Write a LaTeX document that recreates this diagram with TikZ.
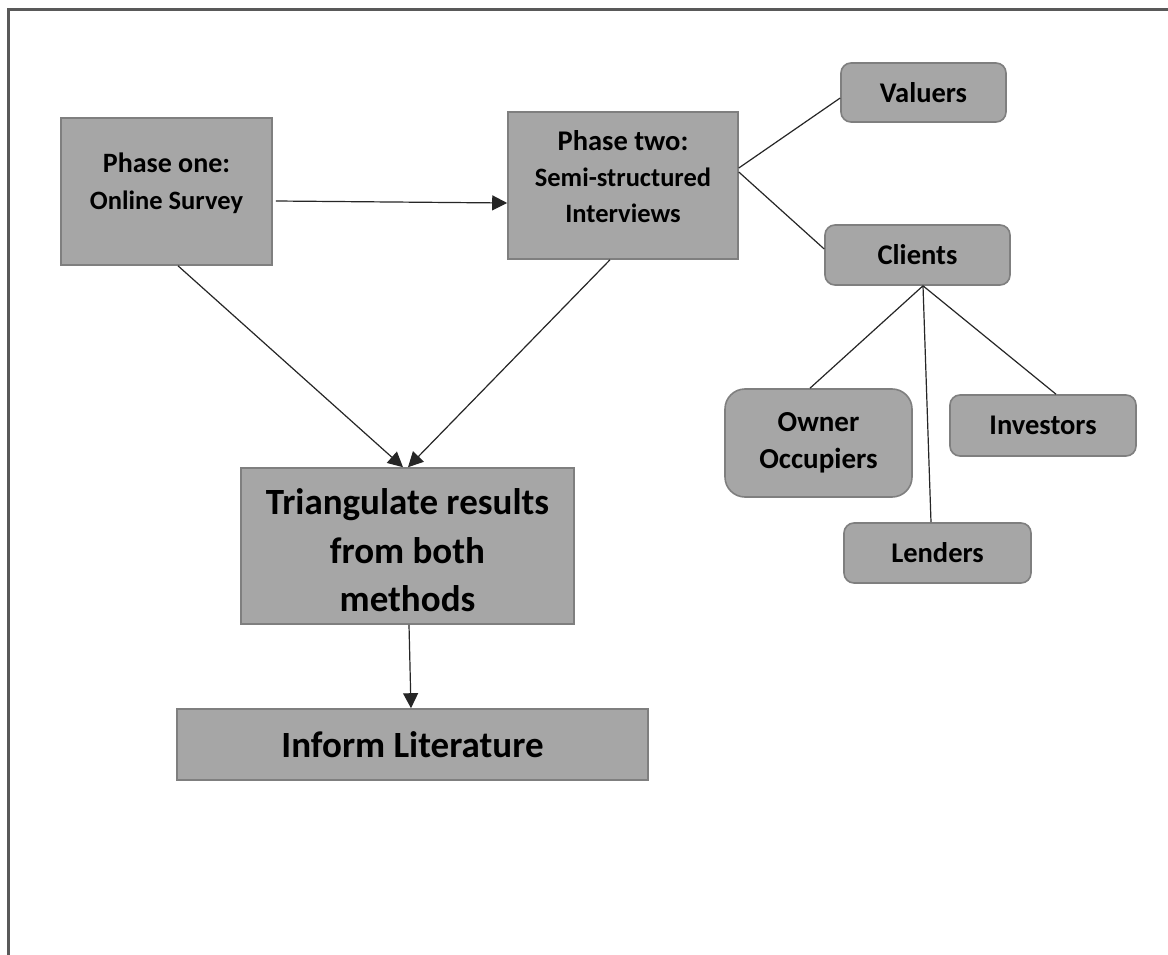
\documentclass[tikz,border=0pt]{standalone}
\usepackage{fontspec}
\setmainfont{Carlito}
\usetikzlibrary{arrows.meta,calc}
\definecolor{boxfill}{HTML}{A6A6A6}
\definecolor{boxline}{HTML}{7F7F7F}
\definecolor{framec}{HTML}{595959}
\newcommand{\liftbox}[2]{\raisebox{#1}[\height][\depth]{#2}}
\newcommand{\fs}[2]{\fontsize{#1}{#2}\selectfont}
\begin{document}
\begin{tikzpicture}[x=1pt,y=-1pt,
  box/.style={draw=boxline, fill=boxfill, line width=1.6pt, inner sep=0pt, font=\bfseries},
  rbox/.style={box, rounded corners=10pt},
  link/.style={draw=black!85, line width=1.2pt},
  arr/.style={link, -{Triangle[length=15pt,width=15pt]}},
]
\useasboundingbox (0,0) rectangle (1168,955);
\fill[white] (0,0) rectangle (1168,955);
\draw[framec, line width=3pt] (8.5,965) -- (8.5,10) -- (1180,10);

\node[box, minimum width=211pt, minimum height=147pt] (p1) at (166.5,191.5)
  {\liftbox{8pt}{\fs{28}{37}\begin{tabular}{@{}c@{}}Phase one:\\ \fs{26.5}{37}Online Survey\end{tabular}}};
\node[box, minimum width=230pt, minimum height=147pt] (p2) at (623,185.5)
  {\liftbox{6.5pt}{\fs{28.5}{36}\begin{tabular}{@{}c@{}}Phase two:\\ \fs{26.5}{36}Semi-structured\\ \fs{26.5}{36}Interviews\end{tabular}}};
\node[rbox, minimum width=165pt, minimum height=59pt, font=\bfseries\fs{28.5}{34}] (val) at (923.5,92.5) {Valuers};
\node[rbox, minimum width=185pt, minimum height=60pt, font=\bfseries\fs{28.5}{34}] (cli) at (917.5,255) {Clients};
\node[box, rounded corners=20pt, minimum width=187pt, minimum height=108pt] (own) at (818.5,443)
  {\fs{29}{37}\begin{tabular}{@{}c@{}}Owner\\ Occupiers\end{tabular}};
\node[rbox, minimum width=186pt, minimum height=61pt, font=\bfseries\fs{28.5}{34}] (inv) at (1043,425.5) {Investors};
\node[rbox, minimum width=187pt, minimum height=60pt, font=\bfseries\fs{28.5}{34}] (len) at (937.5,553) {Lenders};
\node[box, minimum width=333pt, minimum height=156pt] (tri) at (407.5,546)
  {\liftbox{-7.5pt}{\fs{37}{48.5}\begin{tabular}{@{}c@{}}Triangulate results\\ from both\\ methods\end{tabular}}};
\node[box, minimum width=471pt, minimum height=71pt, font=\bfseries\fs{37}{44}] (inf) at (412.5,744.5) {Inform Literature};

\draw[arr] ($(p1.east)+(3,9.5)$) -- ($(p2.west)+(0,17.5)$);
\draw[arr] ($(p1.south)+(11.5,0)$) -- ($(tri.north)+(-4.5,0)$);
\draw[arr] ($(p2.south)+(-13,0)$) -- ($(tri.north)+(0.5,0)$);
\draw[arr] ($(tri.south)+(1.5,0)$) -- ($(inf.north)+(-1.5,0)$);
\draw[link] ($(p2.east)+(0,-17.5)$) -- ($(val.west)+(0,5.5)$);
\draw[link] ($(p2.east)+(0,-13.5)$) -- ($(cli.west)+(0,-6)$);
\coordinate (hub) at ($(cli.south)+(5.5,0)$);
\draw[link] (hub) -- ($(own.north)+(-8.5,0)$);
\draw[link] (hub) -- ($(len.north)+(-6.5,0)$);
\draw[link] (hub) -- ($(inv.north)+(13,0)$);
\end{tikzpicture}
\end{document}
